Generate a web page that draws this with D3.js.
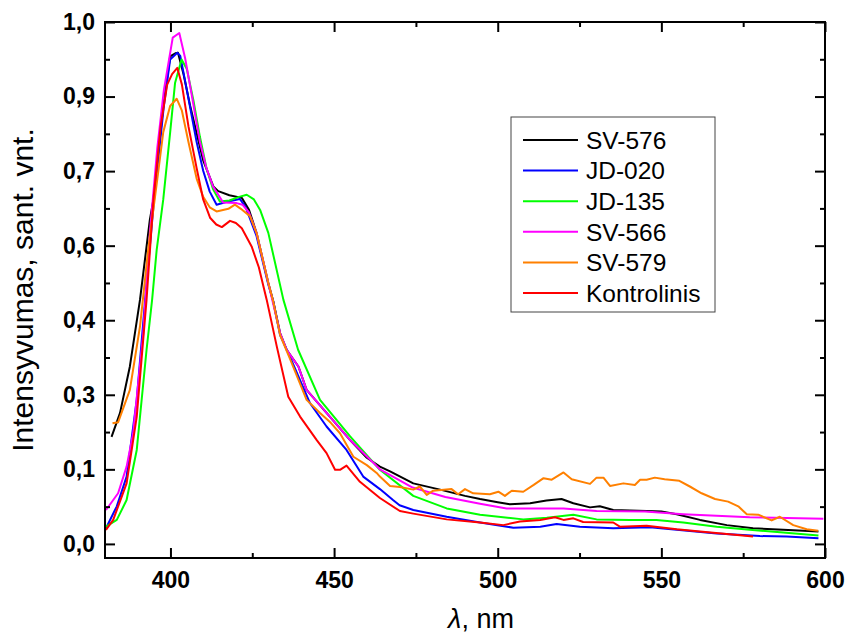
<!DOCTYPE html>
<html>
<head>
<meta charset="utf-8">
<script src="https://cdn.jsdelivr.net/npm/d3@7/dist/d3.min.js"></script>
<style>
    body { margin: 0; background: #fff; }
    svg { font-family: Arial, "Liberation Sans", sans-serif; }
    .tick text { font-weight: bold; font-size: 23px; fill: #000; }
    .tick line { stroke: #000; stroke-width: 2; }
</style>
</head>
<body>
<div id="chart"></div>
<script>
// series, as [wavelength nm, intensity]
const names = ['SV-576', 'JD-020', 'JD-135', 'SV-566', 'SV-579', 'Kontrolinis'];
const colors = ['#000000', '#0000ff', '#00ff00', '#ff00ff', '#ff8000', '#ff0000'];

const sv576 = [[382,0.205],[384.6,0.251],[387.6,0.340],[390.7,0.468],[393.7,0.621],[394.8,0.660],
    [397.8,0.839],[399.9,0.934],[401.5,0.940],[402.3,0.941],[404,0.90],[406,0.84],[408,0.787],
    [410,0.735],[413.1,0.685],[414.6,0.676],[418,0.668],[421.8,0.663],[424,0.640],[426.3,0.596],
    [429.9,0.500],[431.4,0.465],[433.5,0.404],[435.5,0.372],[439.1,0.340],[441.6,0.295],[447.7,0.251],
    [454.9,0.199],[460,0.165],[464,0.148],[467.1,0.139],[474.2,0.116],[482.4,0.104],[490,0.092],
    [494.6,0.086],[500,0.080],[503.7,0.076],[509.9,0.078],[514.9,0.083],[519.5,0.086],[523.1,0.078],
    [528.2,0.070],[531.2,0.072],[535.3,0.065],[545.5,0.063],[550,0.062],[554.7,0.057],[561.8,0.046],
    [570,0.036],[578,0.030],[587.2,0.027],[598,0.024]];

const jd020 = [[380.3,0.030],[383.6,0.072],[386.6,0.129],[389.7,0.276],[392.7,0.500],[395,0.660],
    [398,0.840],[399.9,0.928],[402.1,0.941],[403,0.935],[405,0.870],[408,0.770],[410,0.715],
    [412,0.675],[414.1,0.650],[417,0.655],[421.2,0.661],[423,0.645],[426.3,0.590],[429.9,0.497],
    [431.4,0.465],[433.5,0.400],[436.5,0.359],[442.6,0.270],[447.7,0.225],[453.8,0.180],[458.9,0.129],
    [464,0.105],[468,0.084],[470,0.074],[474.2,0.065],[484.4,0.052],[494.6,0.041],[504.8,0.031],
    [513,0.033],[518,0.038],[525.1,0.033],[535.3,0.030],[546.5,0.032],[554.7,0.027],[566.9,0.020],
    [580.1,0.015],[588.3,0.014],[598,0.011]];

const jd135 = [[380.3,0.033],[383.6,0.046],[386.6,0.084],[389.7,0.180],[392.7,0.372],[394.4,0.468],
    [395.8,0.564],[397.8,0.660],[399.9,0.788],[401.4,0.883],[403.4,0.928],[405,0.910],[407,0.850],
    [409,0.780],[411,0.720],[413,0.680],[415.1,0.656],[418,0.658],[421,0.665],[423.3,0.669],
    [425.5,0.660],[427.4,0.640],[429.9,0.596],[434.5,0.468],[439,0.372],[445.7,0.276],[454.9,0.206],
    [464,0.142],[474.2,0.092],[484.4,0.068],[494.6,0.056],[507.8,0.047],[515,0.050],[523.1,0.056],
    [530.2,0.047],[540.4,0.046],[548.5,0.046],[556.7,0.041],[566.9,0.033],[577,0.027],[587.2,0.022],
    [598,0.016]];

const sv566 = [[380.3,0.065],[384,0.097],[386.6,0.148],[388.6,0.212],[391.7,0.404],[393.7,0.596],
    [396,0.760],[398,0.870],[400.7,0.970],[402.7,0.979],[404.5,0.930],[406.5,0.860],[409,0.770],
    [411,0.720],[413,0.685],[416.1,0.654],[420.2,0.653],[422,0.650],[424,0.635],[426.3,0.596],
    [429.9,0.500],[433.5,0.404],[435.5,0.372],[439.1,0.340],[441.6,0.295],[447.7,0.251],[454.9,0.199],
    [464,0.143],[474,0.108],[484,0.090],[494.6,0.077],[502.7,0.068],[520.1,0.068],[530.2,0.063],
    [545,0.062],[556.7,0.057],[577,0.051],[599.5,0.048]];

const sv579 = [[382.3,0.231],[384,0.233],[387.6,0.295],[390.7,0.417],[393.2,0.564],[396,0.700],
    [397.8,0.789],[399.9,0.839],[401.9,0.853],[403.5,0.830],[405.5,0.770],[408,0.700],[410,0.665],
    [412,0.645],[414.1,0.637],[417.7,0.642],[419.7,0.650],[421.5,0.642],[424.3,0.628],[426.3,0.596],
    [429.9,0.500],[431.4,0.465],[433.5,0.400],[436.5,0.355],[441.6,0.276],[445.7,0.251],[449,0.232],
    [451.8,0.212],[455.9,0.167],[460,0.151],[463,0.136],[464,0.129],[467.1,0.111],[470.1,0.109],
    [474.2,0.104],[476.2,0.110],[478.3,0.094],[480.3,0.102],[485.9,0.105],[487.9,0.095],[490,0.105],
    [492.5,0.097],[497.6,0.095],[500.2,0.100],[502.2,0.092],[504.3,0.102],[507.8,0.100],[511,0.113],
    [514,0.126],[516.5,0.123],[520.1,0.137],[522.6,0.124],[528.2,0.115],[530.2,0.127],[532.3,0.127],
    [534.3,0.111],[538.4,0.116],[541.9,0.113],[543.5,0.123],[545.5,0.123],[548,0.127],[551,0.124],
    [555.5,0.121],[558.7,0.110],[562.3,0.097],[566.4,0.086],[570.4,0.081],[573.5,0.072],[576.1,0.057],
    [579.6,0.056],[583.7,0.045],[586.2,0.052],[590.3,0.036],[594.4,0.028],[597.9,0.025]];

const kontrolinis = [[380.3,0.027],[382.5,0.046],[386.6,0.116],[389.7,0.244],[392.7,0.468],[394.8,0.660],
    [397,0.800],[399,0.880],[400.5,0.900],[402.1,0.912],[403.5,0.880],[405.5,0.800],[408,0.720],
    [410,0.660],[412.1,0.625],[414,0.612],[415.7,0.607],[418.2,0.619],[420,0.615],[421.8,0.605],
    [424.8,0.570],[427,0.530],[429.4,0.468],[432.5,0.378],[436,0.282],[439.6,0.244],[444.7,0.199],
    [447.7,0.174],[450.3,0.142],[451.8,0.142],[453.8,0.150],[457.9,0.119],[464,0.088],[470.1,0.063],
    [474.2,0.058],[484.4,0.047],[494.6,0.041],[501.7,0.036],[506.8,0.043],[513,0.046],[517.5,0.051],
    [520.1,0.046],[523.1,0.049],[526.1,0.042],[535.3,0.041],[537.3,0.033],[545.5,0.035],[554.7,0.028],
    [561.8,0.024],[570,0.019],[578,0.014]];

const series = [sv576, jd020, jd135, sv566, sv579, kontrolinis];

// axis ticks: the y axis is split in sevenths, labels rounded to one decimal
const xTicks = [400, 450, 500, 550, 600];
const xMinor = [425, 475, 525, 575];
const yTicks = d3.range(0, 8).map(k => k / 7);
const yMinor = d3.range(0, 7).map(k => (k + 0.5) / 7);

const W = 847, H = 637,
    margin = {left: 105, top: 22, right: 22, bottom: 79},
    w = W - margin.left - margin.right,
    h = H - margin.top - margin.bottom;

const x = d3.scaleLinear().domain([380, 600]).range([0, w]);
const y = d3.scaleLinear().domain([-0.027, 1.0]).range([h, 0]);

const comma = v => d3.format('.1f')(v).replace('.', ',');

const svg = d3.select('#chart').append('svg')
    .attr('width', W).attr('height', H);
const g = svg.append('g')
    .attr('transform', `translate(${margin.left},${margin.top})`);

// curves
const line = d3.line().x(d => x(d[0])).y(d => y(d[1]));
g.append('g').attr('class', 'curves')
    .selectAll('path')
    .data(series)
  .enter().append('path')
    .attr('d', line)
    .attr('fill', 'none')
    .attr('stroke', (d, i) => colors[i])
    .attr('stroke-width', 2)
    .attr('stroke-linejoin', 'round');

// axes, ticks pointing inward on all four sides
function axisG(gen, tx, ty) {
    let _ = g.append('g').attr('transform', `translate(${tx},${ty})`).call(gen);
    _.select('.domain').remove();
    return _;
}
axisG(d3.axisBottom(x).tickValues(xTicks).tickSizeInner(-10).tickSizeOuter(0).tickPadding(14), 0, h);
axisG(d3.axisBottom(x).tickValues(xMinor).tickSizeInner(-5).tickFormat(''), 0, h);
axisG(d3.axisTop(x).tickValues(xTicks).tickSizeInner(-10).tickFormat(''), 0, 0);
axisG(d3.axisTop(x).tickValues(xMinor).tickSizeInner(-5).tickFormat(''), 0, 0);
axisG(d3.axisLeft(y).tickValues(yTicks).tickSizeInner(-10).tickPadding(10).tickFormat(comma), 0, 0);
axisG(d3.axisLeft(y).tickValues(yMinor).tickSizeInner(-5).tickFormat(''), 0, 0);
axisG(d3.axisRight(y).tickValues(yTicks).tickSizeInner(-10).tickFormat(''), w, 0);
axisG(d3.axisRight(y).tickValues(yMinor).tickSizeInner(-5).tickFormat(''), w, 0);

g.append('rect')
    .attr('width', w).attr('height', h)
    .attr('fill', 'none')
    .attr('stroke', '#000')
    .attr('stroke-width', 2);

// axis titles
svg.append('text')
    .attr('transform', 'translate(33,290) rotate(-90)')
    .attr('text-anchor', 'middle')
    .attr('font-size', 30)
    .text('Intensyvumas, sant. vnt.');

let xt = svg.append('text')
    .attr('x', 481).attr('y', 628)
    .attr('text-anchor', 'middle')
    .attr('font-size', 27);
xt.append('tspan').attr('font-style', 'italic').text('λ');
xt.append('tspan').text(', nm');

// legend
const leg = svg.append('g').attr('transform', 'translate(511,117)');
leg.append('rect')
    .attr('width', 204).attr('height', 195)
    .attr('fill', '#fff')
    .attr('stroke', '#444')
    .attr('stroke-width', 1);
const rows = leg.selectAll('g.row')
    .data(names)
  .enter().append('g')
    .attr('class', 'row')
    .attr('transform', (d, i) => `translate(0,${23 + i * 30.6})`);
rows.append('line')
    .attr('x1', 12).attr('x2', 67)
    .attr('stroke', (d, i) => colors[i])
    .attr('stroke-width', 2);
rows.append('text')
    .attr('x', 75).attr('dy', '0.36em')
    .attr('font-size', 24.5)
    .text(d => d);
</script>
</body>
</html>
